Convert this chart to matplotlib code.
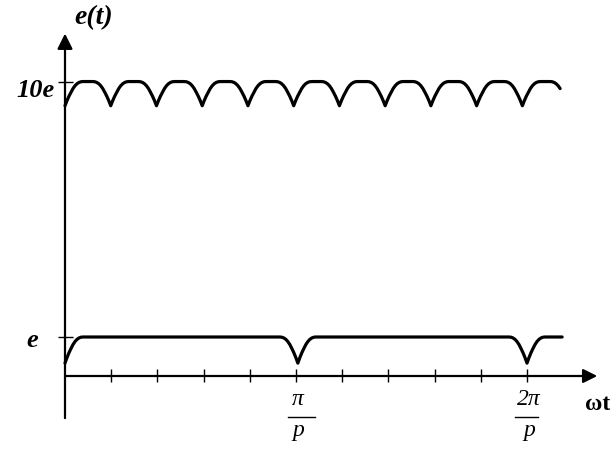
import numpy as np
import matplotlib.pyplot as plt

# x in tick units (one tick = pi/(5p)), y in drawing units (e level = 1)
tick_pos = [1, 2, 3, 4, 5, 6, 7, 8, 9, 10]
e_level = 1.0
top_level = 7.55

# cusp shape, one side: offset from cusp and fraction of the dip depth
cusp_off = [0, 0.043, 0.087, 0.13, 0.173, 0.216, 0.26, 0.303, 0.346, 0.39]
cusp_frac = [1, 0.79, 0.6, 0.44, 0.29, 0.175, 0.09, 0.037, 0.008, 0]

upper_cusps = [0, 0.99, 1.98, 2.97, 3.96, 4.95, 5.94, 6.93, 7.92, 8.91, 9.90, 10.89]
upper_depth = 0.62
upper_end = 10.74

lower_cusps = [0, 5.04, 10.0, 12.0]
lower_depth = 0.67
lower_end = 10.76


def ripple(cusps, level, depth, end):
    xs, ys = [], []
    for c0, c1 in zip(cusps[:-1], cusps[1:]):
        for o, f in zip(cusp_off, cusp_frac):
            xs.append(c0 + o)
            ys.append(level - depth * f)
        for o, f in zip(cusp_off[::-1], cusp_frac[::-1]):
            xs.append(c1 - o)
            ys.append(level - depth * f)
    xs = np.array(xs)
    ys = np.array(ys)
    keep = xs <= end
    xs, ys = list(xs[keep]), list(ys[keep])
    if ys[-1] == level and xs[-1] < end:
        xs.append(end)
        ys.append(level)
    return xs, ys


fig = plt.figure(figsize=(6.13, 4.54), dpi=100)
ax = fig.add_axes([0, 0, 1, 1])
ax.set_xlim(-65 / 46.2, (613 - 65) / 46.2)
ax.set_ylim(-78 / 39, 376 / 39)
ax.axis('off')

# axes with arrows
ax.annotate('', xy=(11.52, 0), xytext=(0, 0),
            arrowprops=dict(arrowstyle='-|>', lw=1.6, color='k', mutation_scale=21,
                            shrinkA=0, shrinkB=0))
ax.annotate('', xy=(0, 8.78), xytext=(0, -1.08),
            arrowprops=dict(arrowstyle='-|>', lw=1.6, color='k', mutation_scale=23,
                            shrinkA=0, shrinkB=0))

# tick marks
ax.vlines(tick_pos, -0.16, 0.18, color='k', lw=1.0)
ax.hlines([e_level, top_level], -0.15, 0.17, color='k', lw=1.0)

# curves
xu, yu = ripple(upper_cusps, top_level, upper_depth, upper_end)
ax.plot(xu, yu, color='k', lw=2.3, solid_joinstyle='round', solid_capstyle='round')
xl, yl = ripple(lower_cusps, e_level, lower_depth, lower_end)
ax.plot(xl, yl, color='k', lw=2.3, solid_joinstyle='round', solid_capstyle='round')

serif = 'Liberation Serif'
ax.text(0.61, 9.18, 'e(t)', family=serif, fontsize=20, fontweight='bold',
        style='italic', ha='center', va='center')
ax.text(-0.22, 7.15, '10e', family=serif, fontsize=19, fontweight='bold',
        style='italic', ha='right', va='baseline')
ax.text(-0.71, 0.74, 'e', family=serif, fontsize=19, fontweight='bold',
        style='italic', ha='center', va='baseline')
ax.text(11.8, -0.87, 'ωt', family=serif, fontsize=17, fontweight='bold',
        ha='right', va='baseline')

# fraction labels
fracs = [('π', 5.04, 4.83, 5.42), ('2π', 10.04, 9.74, 10.24)]
for num, xc, x0, x1 in fracs:
    ax.text(xc, -0.74, num, family=serif, fontsize=17, style='italic',
            ha='center', va='baseline')
    ax.plot([x0, x1], [-1.05, -1.05], color='k', lw=1.0)
    ax.text(xc, -1.55, 'p', family=serif, fontsize=17, style='italic',
            ha='center', va='baseline')

fig.savefig('out.png', dpi=100)
